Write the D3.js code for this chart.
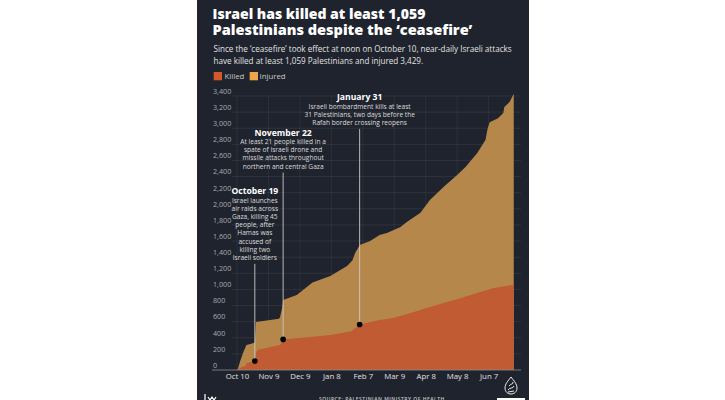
<!DOCTYPE html>
<html>
<head>
<meta charset="utf-8">
<script src="https://cdn.jsdelivr.net/npm/d3@7"></script>
<style>
  body { margin: 0; background: #fff; }
  svg { display: block; }
  text { font-family: "Open Sans", "Noto Sans", sans-serif; }
</style>
</head>
<body>
<div id="chart"></div>
<script>
// Data (cumulative since the ceasefire)

const injuredDates = ['2025-10-10','2025-10-11','2025-10-13','2025-10-16','2025-10-19','2025-10-26','2025-10-27','2025-10-28',
    '2025-11-19','2025-11-20','2025-11-22','2025-11-23','2025-12-06','2025-12-21','2026-01-07','2026-01-23','2026-01-28',
    '2026-01-31','2026-02-02','2026-02-04','2026-02-14','2026-02-23','2026-03-02','2026-03-15','2026-03-21','2026-04-03',
    '2026-04-12','2026-04-25','2026-05-08','2026-05-16','2026-05-27','2026-06-04','2026-06-06','2026-06-08','2026-06-16',
    '2026-06-21','2026-06-22','2026-06-27','2026-07-01'];
const injuredValues = [0, 20, 110, 220, 310, 335, 340, 595,
    635, 650, 770, 870, 930, 1085, 1165, 1290, 1360,
    1460, 1500, 1550, 1600, 1675, 1700, 1775, 1835, 1950,
    2110, 2270, 2420, 2520, 2690, 2855, 2990, 3075, 3125,
    3190, 3265, 3325, 3429];

const killedDates = ['2025-10-10','2025-10-15','2025-10-18','2025-10-19','2025-10-27','2025-10-28','2025-10-30',
    '2025-11-20','2025-11-22','2025-11-23','2025-12-06','2026-01-07','2026-01-27','2026-01-31','2026-02-04','2026-02-23',
    '2026-03-08','2026-03-24','2026-04-09','2026-04-25','2026-05-11','2026-05-27','2026-06-11','2026-07-01'];
const killedValues = [0, 40, 45, 85, 112, 210, 250,
    310, 345, 380, 395, 435, 480, 520, 565, 620,
    645, 705, 770, 830, 890, 955, 1015, 1059];

const xTickDates = ['2025-10-10','2025-11-09','2025-12-09','2026-01-08','2026-02-07','2026-03-09','2026-04-08','2026-05-08','2026-06-07'];
const yTickValues = [0,200,400,600,800,1000,1200,1400,1600,1800,2000,2200,2400,2600,2800,3000,3200,3400];

const legendLabels = ['Killed', 'Injured'];

// annotation anchor dates are where the markers sit in the picture
const noteDates = ['2025-10-27', '2025-11-23', '2026-02-04'];
const noteTitles = ['October 19', 'November 22', 'January 31'];
const noteLines = [
    ['Israel launches', 'air raids across', 'Gaza, killing 45', 'people, after', 'Hamas was', 'accused of', 'killing two', 'Israeli soldiers'],
    ['At least 21 people killed in a', 'spate of Israeli drone and', 'missile attacks throughout', 'northern and central Gaza'],
    ['Israeli bombardment kills at least', '31 Palestinians, two days before the', 'Rafah border crossing reopens']
];

const parse = d3.timeParse('%Y-%m-%d');
const injured = injuredDates.map((d, i) => ({ date: parse(d), value: injuredValues[i] }));
const killed = killedDates.map((d, i) => ({ date: parse(d), value: killedValues[i] }));

// ---- layout ----
const W = 725, H = 400;
const panel = { x: 197, w: 332 };
const colors = { bg: '#1f232d', injured: '#b5874b', killed: '#c05b33',
                 legKilled: '#d4572c', legInjured: '#eea54a' };
const noteTitleY = [194.3, 135.6, 100.1];
const titleWidths = [213, 260];

const svg = d3.select('#chart').append('svg')
    .attr('width', W)
    .attr('height', H);

svg.append('rect')
    .attr('x', panel.x).attr('y', 0)
    .attr('width', panel.w).attr('height', H)
    .attr('fill', colors.bg);

var x = d3.scaleTime()
    .domain([parse('2025-10-10'), parse('2026-07-06')])
    .range([237, 519]);

var y = d3.scaleLinear()
    .domain([0, 3400])
    .range([370, 96]);

// ---- header ----
let head = svg.append('g');

// the original face is wider than what's installed, so stretch each line to its width
head.selectAll('.title')
    .data(['Israel has killed at least 1,059', 'Palestinians despite the \u2018ceasefire\u2019'])
    .join('text')
    .classed('title', true)
    .attr('x', 0)
    .attr('y', 0)
    .attr('fill', '#fff')
    .attr('font-size', 14.6)
    .attr('font-weight', 800)
    .text(d => d)
    .attr('transform', function(d, i) {
        let w = this.getComputedTextLength();
        return `translate(212.5,${19.3 + i * 15.4}) scale(${titleWidths[i] / w},1)`;
    });

head.selectAll('.sub')
    .data(['Since the \u2018ceasefire\u2019 took effect at noon on October 10, near-daily Israeli attacks',
           'have killed at least 1,059 Palestinians and injured 3,429.'])
    .join('text')
    .classed('sub', true)
    .attr('x', 213.5)
    .attr('y', (d, i) => 52 + i * 11.7)
    .attr('fill', '#e2e2e2')
    .attr('font-size', 8.1)
    .text(d => d);

let legendG = svg.append('g');

legendG.selectAll('rect')
    .data(legendLabels)
    .join('rect')
    .attr('x', (d, i) => 213.7 + i * 36)
    .attr('y', 72)
    .attr('width', 8.3)
    .attr('height', 8.3)
    .attr('fill', (d, i) => i == 0 ? colors.legKilled : colors.legInjured);

legendG.selectAll('text')
    .data(legendLabels)
    .join('text')
    .attr('x', (d, i) => 224.5 + i * 35)
    .attr('y', 79.3)
    .attr('fill', '#c8c8c8')
    .attr('font-size', 7.8)
    .text(d => d);

// ---- grid ----
let grid = svg.append('g');

grid.selectAll('.hgrid')
    .data(yTickValues.filter(v => v > 0))
    .join('line')
    .classed('hgrid', true)
    .attr('x1', 232).attr('x2', 521)
    .attr('y1', d => y(d)).attr('y2', d => y(d))
    .attr('stroke', 'rgba(255,255,255,0.09)')
    .attr('stroke-width', 0.8);

grid.selectAll('.vgrid')
    .data(xTickDates.map(parse))
    .join('line')
    .classed('vgrid', true)
    .attr('x1', d => x(d)).attr('x2', d => x(d))
    .attr('y1', y(0)).attr('y2', y(3400))
    .attr('stroke', 'rgba(255,255,255,0.07)')
    .attr('stroke-width', 0.8);

grid.selectAll('.ylab')
    .data(yTickValues)
    .join('text')
    .classed('ylab', true)
    .attr('x', 213)
    .attr('y', d => y(d) - 2.2)
    .attr('fill', '#a6a9b0')
    .attr('font-size', 7.2)
    .text(d => d3.format(',')(d));

// ---- areas ----
const area = d3.area()
    .x(d => x(d.date))
    .y0(y(0))
    .y1(d => y(d.value));

svg.append('path')
    .datum(injured)
    .attr('d', area)
    .attr('fill', colors.injured);

svg.append('path')
    .datum(killed)
    .attr('d', area)
    .attr('fill', colors.killed);

// baseline
svg.append('line')
    .attr('x1', 212).attr('x2', 521)
    .attr('y1', y(0)).attr('y2', y(0))
    .attr('stroke', '#8a8d94')
    .attr('stroke-width', 0.8);

// ---- x axis ----
var xAxis = d3.axisBottom(x)
    .tickValues(xTickDates.map(parse))
    .tickFormat(d3.timeFormat('%b %-d'))
    .tickSize(0)
    .tickPadding(3.5);

let xg = svg.append('g')
    .attr('transform', `translate(0,${y(0)})`)
    .call(xAxis);

xg.select('.domain').remove();
xg.selectAll('text')
    .attr('fill', '#e0e0e0')
    .attr('font-size', 7.8)
    .attr('font-family', '"Open Sans", sans-serif');

// ---- annotations ----
let notes = svg.append('g');

noteDates.forEach((d, i) => {
    let date = parse(d);
    let k = killed.find(e => +e.date == +date);
    let cx = x(date);
    let top = noteTitleY[i];
    let lines = noteLines[i];

    notes.append('text')
        .attr('x', cx)
        .attr('y', top)
        .attr('text-anchor', 'middle')
        .attr('fill', '#fff')
        .attr('font-size', 8.6)
        .attr('font-weight', 700)
        .text(noteTitles[i]);

    notes.selectAll('.note' + i)
        .data(lines)
        .join('text')
        .attr('x', cx)
        .attr('y', (l, j) => top + 8.5 + j * 8.15)
        .attr('text-anchor', 'middle')
        .attr('fill', '#dcdcdc')
        .attr('font-size', 6.6)
        .text(l => l);

    let lastY = top + 8.5 + (lines.length - 1) * 8.15;

    notes.append('line')
        .attr('x1', cx).attr('x2', cx)
        .attr('y1', lastY + 4).attr('y2', y(k.value))
        .attr('stroke', '#c9c9c9')
        .attr('stroke-width', 0.9);

    notes.append('circle')
        .attr('cx', cx)
        .attr('cy', y(k.value))
        .attr('r', 2.8)
        .attr('fill', '#000');
});

// ---- footer ----
svg.append('text')
    .attr('x', 319)
    .attr('y', 400.5)
    .attr('fill', '#c8c8c8')
    .attr('font-size', 5)
    .attr('font-weight', 600)
    .attr('letter-spacing', 0.5)
    .text('SOURCE: PALESTINIAN MINISTRY OF HEALTH');

// logo mark, bottom right
let logo = svg.append('g')
    .attr('transform', 'translate(511,386)')
    .attr('fill', 'none')
    .attr('stroke', '#fff')
    .attr('stroke-width', 0.9);

logo.append('path')
    .attr('d', 'M0,-9 C3,-5 6,-2 6,2 C6,6 3,8 0,8 C-3,8 -6,6 -6,2 C-6,-2 -3,-5 0,-9 Z');
logo.append('path')
    .attr('d', 'M-3,4 C-1,1 2,3 3,0 M-2,0 C0,-3 2,-1 2,-4 M-3,6 L3,5');

svg.append('rect')
    .attr('x', 497).attr('y', 398)
    .attr('width', 28).attr('height', 2)
    .attr('fill', '#fff');

svg.append('path')
    .attr('d', 'M205,394 L205,400 M208,397 L210,400 L212,397 L214,400 L216,397')
    .attr('stroke', '#fff')
    .attr('stroke-width', 1.2)
    .attr('fill', 'none');
</script>
</body>
</html>
